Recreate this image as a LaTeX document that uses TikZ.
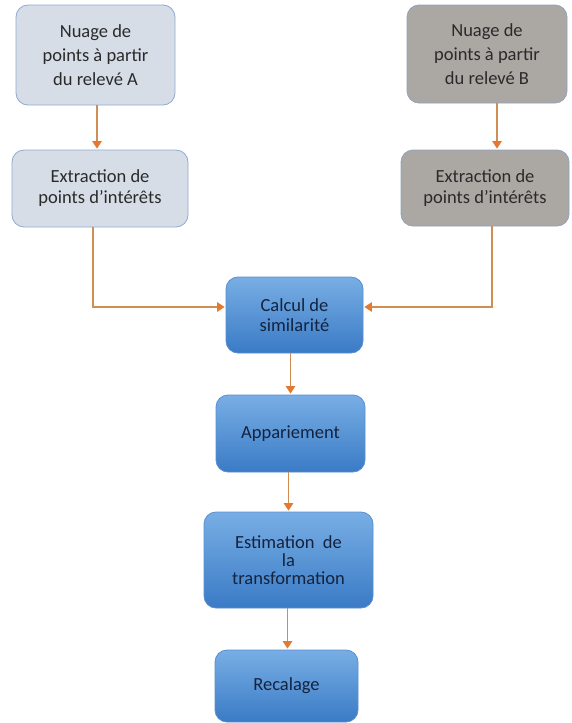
\documentclass[tikz,border=0pt]{standalone}
\usepackage{fontspec}
\setmainfont{Carlito}
\usetikzlibrary{arrows.meta}
\definecolor{arr}{HTML}{E37A30}
\definecolor{linecol}{HTML}{D08E55}
\definecolor{lightfill}{HTML}{D6DDE7}
\definecolor{lightdraw}{HTML}{8FAAD0}
\definecolor{grayfill}{HTML}{ABA7A3}
\definecolor{graydraw}{HTML}{8EA3BD}
\definecolor{bluetop}{HTML}{78AEE4}
\definecolor{bluebot}{HTML}{3A7BC6}
\definecolor{bluedraw}{HTML}{5A8ED0}
\definecolor{bluetext}{HTML}{14233F}
\definecolor{greytext}{HTML}{2A2A2A}
\tikzset{
  base/.style={rounded corners=12pt, align=center, inner sep=2pt,
    font=\fontsize{18.5}{23}\selectfont, line width=0.8pt},
  lightbox/.style={base, fill=lightfill, draw=lightdraw, text=greytext},
  graybox/.style={base, fill=grayfill, draw=graydraw, text=greytext},
  bluebox/.style={base, top color=bluetop, bottom color=bluebot, draw=bluedraw, text=bluetext},
  conn/.style={draw=linecol, line width=1.1pt, -{Triangle[length=7.5pt,width=9.5pt,color=arr]}, shorten >=1pt}
}
\begin{document}
\begin{tikzpicture}[x=1pt,y=-1pt]
\useasboundingbox (0,0) rectangle (571,723);
\node[lightbox, minimum width=159pt, minimum height=100pt, font=\fontsize{18.5}{24}\selectfont] (a1) at (95.5,55) {Nuage de\\points à partir\\du relevé A};
\node[lightbox, minimum width=176pt, minimum height=77pt, font=\fontsize{18.5}{21}\selectfont] (a2) at (100,188.5) {Extraction de\\points d’intérêts};
\node[graybox, minimum width=160pt, minimum height=98pt, font=\fontsize{18.5}{24}\selectfont] (b1) at (487,54) {Nuage de\\points à partir\\du relevé B};
\node[graybox, minimum width=168pt, minimum height=76pt, font=\fontsize{18.5}{21}\selectfont] (b2) at (485,188) {Extraction de\\points d’intérêts};
\node[bluebox, minimum width=137pt, minimum height=76pt, font=\fontsize{18.5}{20}\selectfont] (c) at (294.5,315) {Calcul de\\similarité};
\node[bluebox, minimum width=149pt, minimum height=77pt] (d) at (290.5,433.5) {Appariement};
\node[bluebox, minimum width=169pt, minimum height=96pt, font=\fontsize{18.5}{18}\selectfont] (e) at (288.5,560) {Estimation~~de\\la\\transformation};
\node[bluebox, minimum width=143pt, minimum height=72pt] (f) at (286.5,686) {Recalage};
\coordinate (aout) at ([xshift=-7pt]a2.south);
\coordinate (bout) at ([xshift=7pt]b2.south);
\coordinate (cin) at ([yshift=8pt]c.west);
\coordinate (cinr) at ([yshift=8pt]c.east);
\draw[conn] ([xshift=1.5pt]a1.south) -- ([xshift=1.5pt]a1.south |- a2.north);
\draw[conn] ([xshift=10pt]b1.south) -- ([xshift=10pt]b1.south |- b2.north);
\draw[conn] (aout) |- (cin);
\draw[conn] (bout) |- (cinr);
\draw[conn] ([xshift=-4pt]c.south) -- ([xshift=-4pt]c.south |- d.north);
\draw[conn] ([xshift=-2pt]d.south) -- ([xshift=-2pt]d.south |- e.north);
\draw[conn] ([xshift=-1pt]e.south) -- ([xshift=-1pt]e.south |- f.north);
\end{tikzpicture}
\end{document}
